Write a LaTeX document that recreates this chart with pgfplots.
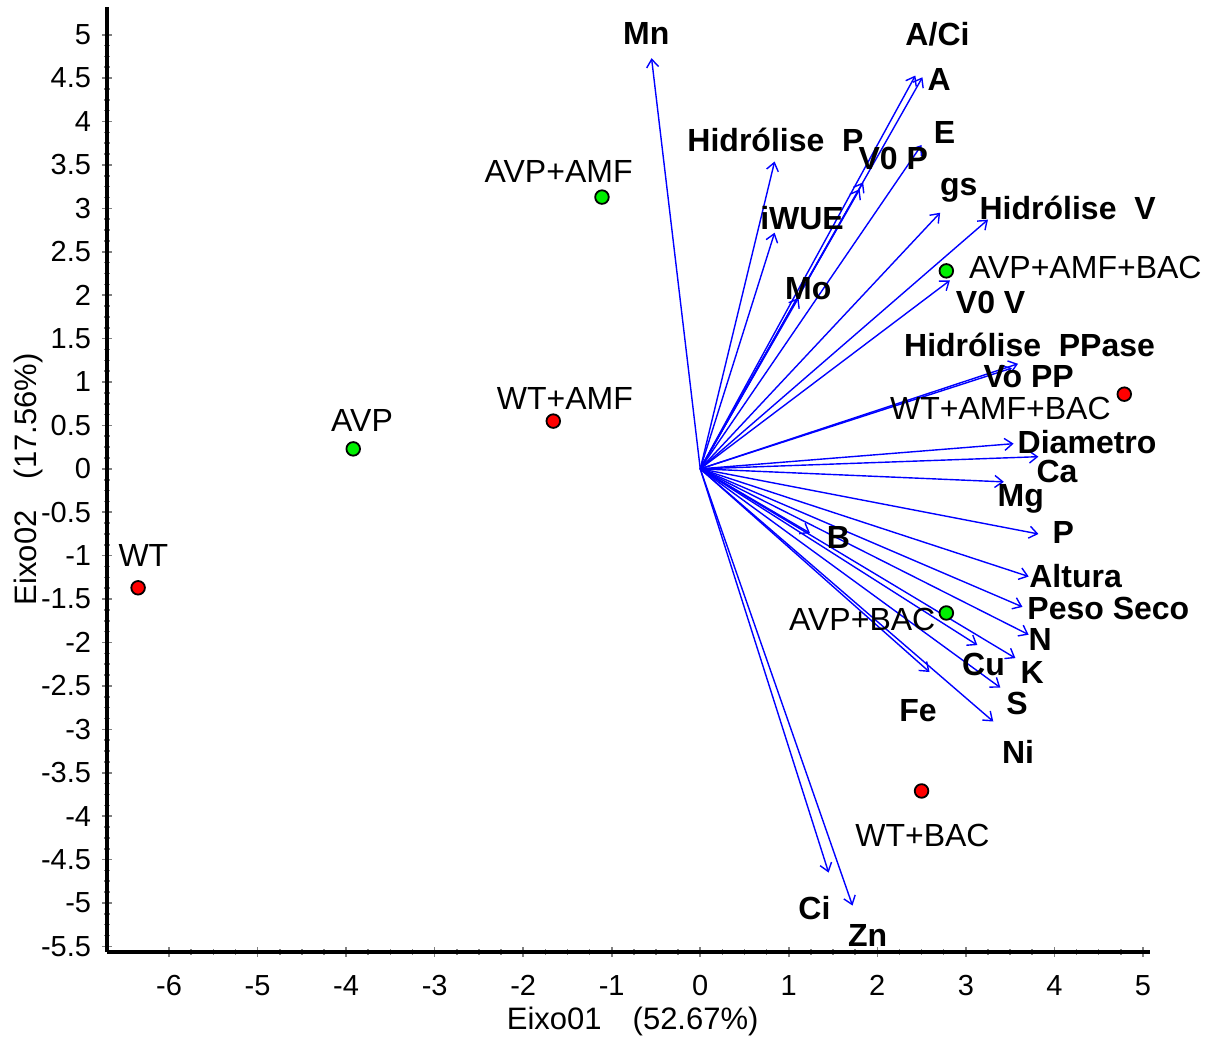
\documentclass[border=0pt]{standalone}
\usepackage{fontspec}
\setmainfont{Liberation Sans}
\usepackage{pgfplots}
\pgfplotsset{compat=1.18}
\usetikzlibrary{arrows.meta}
\definecolor{lime}{RGB}{0,240,0}
\begin{document}
\fontsize{16}{19}\selectfont
\begin{tikzpicture}
\begin{axis}[
 x=44.25pt, y=43.4pt,
 xmin=-6.70, xmax=5.08, ymin=-5.56, ymax=5.32,
 axis x line*=bottom, axis y line*=left,
 axis line style={-, line width=2pt, black},
 xtick={-6,-5,-4,-3,-2,-1,0,1,2,3,4,5},
 ytick={-5.5,-5,-4.5,-4,-3.5,-3,-2.5,-2,-1.5,-1,-0.5,0,0.5,1,1.5,2,2.5,3,3.5,4,4.5,5},
 minor x tick num=3, minor y tick num=3,
 tick align=center, major tick length=5pt, minor tick length=3pt,
 tick style={gray, line width=0.8pt},
 /pgf/number format/assume math mode=true,
 ticklabel style={font=\fontsize{14.5}{17}\selectfont},
 xticklabel style={yshift=-4pt},
 label style={font=\fontsize{15.5}{18}\selectfont},
 xlabel={Eixo01\quad(52.67\%)}, ylabel={Eixo02\quad(17.56\%)},
 xlabel style={at={(axis description cs:0.504,-0.074)}, anchor=center},
 ylabel style={at={(axis description cs:-0.0758,0.5)}, anchor=center},
 clip=false,
]
\addplot[blue, line width=0.7pt, -{Straight Barb[length=4pt,width=6pt]},
  quiver={u=\thisrow{u}, v=\thisrow{v}}] table {
x y u v
0 0 -0.55 4.73
0 0 2.43 4.53
0 0 2.51 4.51
0 0 2.50 3.73
0 0 1.84 3.30
0 0 1.80 3.22
0 0 0.84 3.54
0 0 0.84 2.72
0 0 1.11 1.97
0 0 2.71 2.95
0 0 3.25 2.87
0 0 2.82 2.17
0 0 3.59 1.21
0 0 3.52 1.16
0 0 3.54 0.29
0 0 3.82 0.14
0 0 3.43 -0.15
0 0 3.82 -0.75
0 0 3.71 -1.24
0 0 3.64 -1.59
0 0 3.71 -1.91
0 0 3.56 -2.18
0 0 3.13 -2.03
0 0 3.39 -2.52
0 0 3.31 -2.91
0 0 2.59 -2.34
0 0 1.24 -0.74
0 0 1.45 -4.65
0 0 1.72 -5.03
};
\addplot[only marks, mark=*, mark size=3.4pt, mark options={draw=black, fill=red, line width=0.9pt}] coordinates {
(-6.35,-1.37) (-1.66,0.55) (4.79,0.86) (2.50,-3.71)};
\addplot[only marks, mark=*, mark size=3.4pt, mark options={draw=black, fill=lime, line width=0.9pt}] coordinates {
(-3.92,0.23) (-1.11,3.13) (2.78,2.28) (2.78,-1.66)};
% treatment labels
\begin{scope}[every node/.style={inner sep=0.5pt}]
\node at (axis cs:-6.29,-1.00) {WT};
\node at (axis cs:-3.82,0.56) {AVP};
\node at (axis cs:-1.53,0.81) {WT+AMF};
\node at (axis cs:-1.60,3.42) {AVP+AMF};
\node at (axis cs:4.35,2.32) {AVP+AMF+BAC};
\node at (axis cs:3.39,0.70) {WT+AMF+BAC};
\node at (axis cs:1.83,-1.73) {AVP+BAC};
\node at (axis cs:2.51,-4.22) {WT+BAC};
\end{scope}
% variable labels
\begin{scope}[every node/.style={font=\bfseries, inner sep=0.5pt}]
\node at (axis cs:-0.61,5.01) {Mn};
\node at (axis cs:2.68,5.01) {A/Ci};
\node at (axis cs:2.70,4.49) {A};
\node at (axis cs:2.76,3.87) {E};
\node at (axis cs:0.85,3.79) {Hidrólise\ \ P};
\node at (axis cs:2.18,3.58) {V0 P};
\node at (axis cs:1.15,2.89) {iWUE};
\node at (axis cs:2.92,3.21) {gs};
\node at (axis cs:4.15,3.01) {Hidrólise\ \ V};
\node at (axis cs:1.22,2.07) {Mo};
\node at (axis cs:3.28,1.92) {V0 V};
\node at (axis cs:3.72,1.43) {Hidrólise\ \ PPase};
\node at (axis cs:3.71,1.06) {Vo PP};
\node at (axis cs:4.37,0.31) {Diametro};
\node at (axis cs:4.03,-0.03) {Ca};
\node at (axis cs:3.62,-0.35) {Mg};
\node at (axis cs:4.10,-0.73) {P};
\node at (axis cs:1.56,-0.79) {B};
\node at (axis cs:4.24,-1.23) {Altura};
\node at (axis cs:4.61,-1.61) {Peso Seco};
\node at (axis cs:3.84,-1.96) {N};
\node at (axis cs:3.20,-2.25) {Cu};
\node at (axis cs:3.75,-2.34) {K};
\node at (axis cs:3.58,-2.70) {S};
\node at (axis cs:2.46,-2.78) {Fe};
\node at (axis cs:3.59,-3.26) {Ni};
\node at (axis cs:1.29,-5.06) {Ci};
\node at (axis cs:1.89,-5.38) {Zn};
\end{scope}
\path (axis cs:-7.91,5.40) rectangle (axis cs:5.86,-6.59);
\end{axis}
\end{tikzpicture}
\end{document}
